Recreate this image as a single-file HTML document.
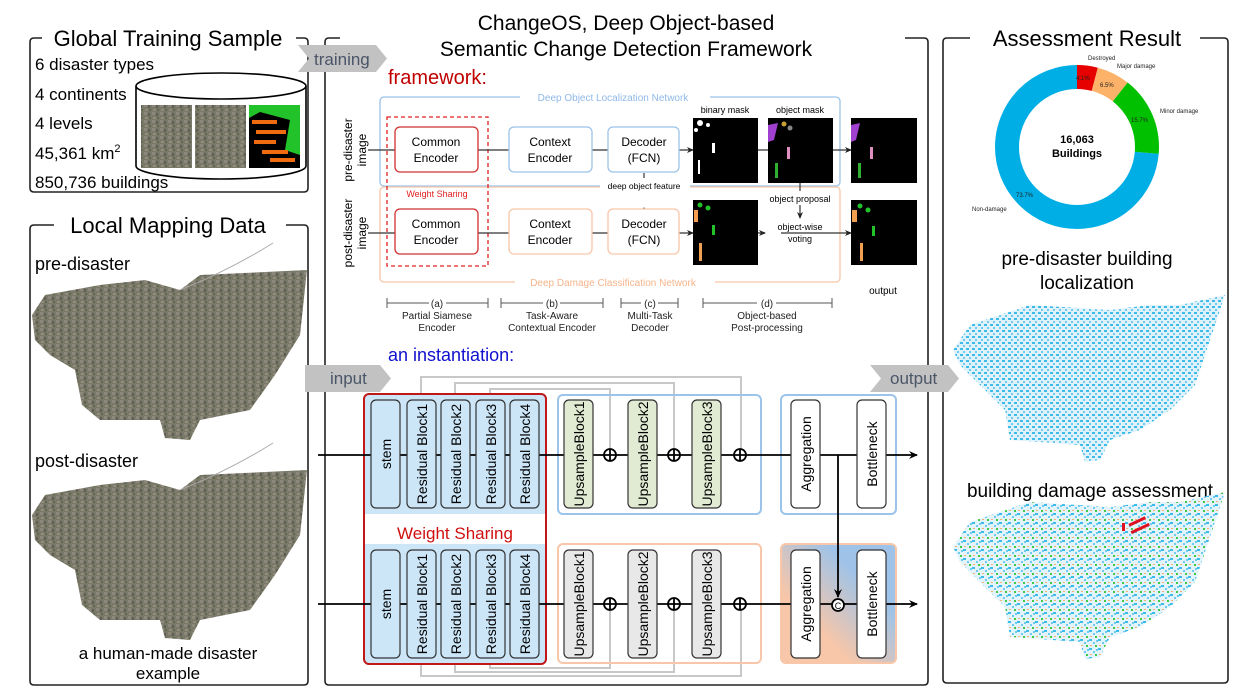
<!DOCTYPE html>
<html><head><meta charset="utf-8"><style>
html,body{margin:0;padding:0;background:#fff}
svg{display:block}
text{font-family:"Liberation Sans",Arial,sans-serif}
</style></head><body>
<svg width="1251" height="692" viewBox="0 0 1251 692" xmlns="http://www.w3.org/2000/svg">
<defs>
<pattern id="sat" width="8" height="8" patternUnits="userSpaceOnUse">
<rect width="8" height="8" fill="#7a7869"/>
<rect x="0" y="0" width="3" height="3" fill="#8c887a"/>
<rect x="4" y="1" width="2" height="3" fill="#5e5d52"/>
<rect x="1" y="5" width="3" height="2" fill="#918b7b"/>
<rect x="5" y="5" width="2" height="2" fill="#5f6a4c"/>
</pattern>
<pattern id="blu" width="6" height="6" patternUnits="userSpaceOnUse">
<rect width="6" height="6" fill="#dff2fb"/>
<rect x="0" y="0" width="3" height="2" fill="#3dbbe8"/>
<rect x="3" y="3" width="2" height="2" fill="#6ccbef"/>
</pattern>
<pattern id="dmg" width="9" height="9" patternUnits="userSpaceOnUse">
<rect width="9" height="9" fill="#e2f3fb"/>
<rect x="0" y="0" width="3" height="2" fill="#3dbbe8"/>
<rect x="4" y="3" width="2" height="2" fill="#6ccbef"/>
<rect x="6" y="6" width="2" height="2" fill="#40c848"/>
<rect x="1" y="6" width="2" height="1" fill="#f6b070"/>
<rect x="7" y="1" width="2" height="2" fill="#6ccbef"/>
</pattern>
<linearGradient id="grd" x1="0" y1="1" x2="1" y2="0">
<stop offset="0.3" stop-color="#f8c6a8"/><stop offset="0.7" stop-color="#9fc3e8"/>
</linearGradient>
<marker id="ah" markerWidth="10" markerHeight="10" refX="8" refY="5" orient="auto" markerUnits="userSpaceOnUse">
<path d="M0,1 L9,5 L0,9 L3,5 z" fill="#000"/></marker>
<marker id="ahs" markerWidth="8" markerHeight="8" refX="6" refY="4" orient="auto" markerUnits="userSpaceOnUse">
<path d="M0,1 L7,4 L0,7 L2,4 z" fill="#222"/></marker>
</defs>

<g fill="none" stroke="#222" stroke-width="1.6">
<path d="M42,38 H34 Q30,38 30,42 V188 Q30,192 34,192 H304 Q308,192 308,188 V42 Q308,38 304,38 H296"/>
<path d="M54,225 H34 Q30,225 30,229 V681 Q30,685 34,685 H304 Q308,685 308,681 V229 Q308,225 304,225 H286"/>
<path d="M340,38 H329 Q325,38 325,42 V681 Q325,685 329,685 H924 Q928,685 928,681 V42 Q928,38 924,38 H905"/>
<path d="M970,38 H947 Q943,38 943,42 V679 Q943,683 947,683 H1224 Q1228,683 1228,679 V42 Q1228,38 1224,38 H1200"/>
</g>
<text x="168" y="46" font-size="22" text-anchor="middle">Global Training Sample</text>
<text x="168" y="233" font-size="22" text-anchor="middle">Local Mapping Data</text>
<text x="1087" y="46" font-size="22" text-anchor="middle">Assessment Result</text>
<text x="626" y="30" font-size="21" text-anchor="middle">ChangeOS, Deep Object-based</text>
<text x="626" y="56" font-size="21" text-anchor="middle">Semantic Change Detection Framework</text>

<g font-size="17">
<text x="35" y="70">6 disaster types</text>
<text x="35" y="100">4 continents</text>
<text x="35" y="129">4 levels</text>
<text x="35" y="159">45,361 km<tspan font-size="11" dy="-7">2</tspan></text>
<text x="35" y="188">850,736 buildings</text>
</g>
<path d="M136,86 V166 A85,13 0 0 0 306,166 V86" fill="#fff" stroke="#000" stroke-width="1.6"/>
<ellipse cx="221" cy="86" rx="85" ry="13" fill="#fff" stroke="#000" stroke-width="1.6"/>
<rect x="141" y="105" width="51" height="63" fill="url(#sat)"/>
<rect x="195" y="105" width="51" height="63" fill="url(#sat)"/>
<rect x="249" y="105" width="51" height="63" fill="#000"/>
<path d="M249,105 H300 V155 L285,150 L290,120 L260,112 L249,118 z" fill="#22c22a"/>
<g fill="#f06a10"><rect x="252" y="120" width="25" height="4"/><rect x="256" y="130" width="30" height="4"/><rect x="254" y="140" width="22" height="4"/><rect x="262" y="150" width="26" height="4"/><rect x="270" y="158" width="25" height="4"/></g>
<path d="M298,45 H376 L387,58.5 L376,72 H298 L309,58.5 z" fill="#c2c2c2"/>
<text x="314" y="65" font-size="17" fill="#4a5568">training</text>

<text x="35" y="270" font-size="18">pre-disaster</text>
<text x="35" y="467" font-size="18">post-disaster</text>
<g fill="url(#sat)">
<path d="M32,315 L45,295 L100,285 L145,280 L180,290 L200,275 L265,272 L307,270 L300,335 L275,375 L250,410 L200,420 L190,440 L165,438 L160,420 L100,420 L82,405 L75,370 L50,355 L35,340 z"/>
<path d="M32,515 L45,495 L100,485 L145,480 L180,490 L200,475 L265,472 L307,470 L300,535 L275,575 L250,610 L200,620 L190,640 L165,638 L160,620 L100,620 L82,605 L75,570 L50,555 L35,540 z"/>
</g>
<path d="M180,290 Q230,270 273,243" fill="none" stroke="#aaa"/>
<path d="M180,490 Q230,470 273,443" fill="none" stroke="#aaa"/>
<text x="168" y="659" font-size="17" text-anchor="middle">a human-made disaster</text>
<text x="168" y="679" font-size="17" text-anchor="middle">example</text>

<text x="388" y="84" font-size="20" fill="#c00000">framework:</text>
<rect x="380" y="97" width="460" height="89" rx="4" fill="none" stroke="#9cc3ea" stroke-width="1.3"/>
<rect x="380" y="187" width="460" height="95" rx="4" fill="none" stroke="#f8c6a8" stroke-width="1.3"/>
<rect x="520" y="91" width="190" height="12" fill="#fff"/>
<text x="613" y="101" font-size="10" fill="#8fb8e8" text-anchor="middle">Deep Object Localization Network</text>
<rect x="515" y="276" width="200" height="12" fill="#fff"/>
<text x="613" y="286" font-size="10" fill="#f6b48a" text-anchor="middle">Deep Damage Classification Network</text>
<rect x="387" y="117" width="101" height="149" fill="none" stroke="#e02020" stroke-width="1.3" stroke-dasharray="4,3"/>
<text x="437" y="197" font-size="9" fill="#e02020" text-anchor="middle">Weight Sharing</text>
<text transform="translate(352,150) rotate(-90)" font-size="12" text-anchor="middle">pre-disaster</text>
<text transform="translate(366,150) rotate(-90)" font-size="12" text-anchor="middle">image</text>
<text transform="translate(352,233) rotate(-90)" font-size="12" text-anchor="middle">post-disaster</text>
<text transform="translate(366,233) rotate(-90)" font-size="12" text-anchor="middle">image</text>
<g stroke="#333" stroke-width="1.2">
<line x1="368" y1="150" x2="693" y2="150" marker-end="url(#ahs)"/>
<line x1="368" y1="233" x2="693" y2="233" marker-end="url(#ahs)"/>
<line x1="758" y1="150" x2="851" y2="150" marker-end="url(#ahs)"/>
<line x1="781" y1="233" x2="851" y2="233" marker-end="url(#ahs)"/>
<line x1="740" y1="233" x2="765" y2="233" marker-end="url(#ahs)"/>
<line x1="644" y1="173" x2="644" y2="178"/>
<line x1="644" y1="212" x2="644" y2="208" marker-end="url(#ahs)"/>
<line x1="800" y1="183" x2="800" y2="191"/>
<line x1="800" y1="205" x2="800" y2="218" marker-end="url(#ahs)"/>
</g>
<g font-size="12" text-anchor="middle">
<rect x="395" y="127" width="83" height="45" rx="5" fill="#fff" stroke="#d03030" stroke-width="1.3"/>
<text x="436" y="146">Common</text><text x="436" y="162">Encoder</text>
<rect x="395" y="209" width="83" height="45" rx="5" fill="#fff" stroke="#d03030" stroke-width="1.3"/>
<text x="436" y="228">Common</text><text x="436" y="244">Encoder</text>
<rect x="509" y="127" width="83" height="45" rx="5" fill="#fff" stroke="#9cc3ea" stroke-width="1.3"/>
<text x="550" y="146">Context</text><text x="550" y="162">Encoder</text>
<rect x="509" y="209" width="83" height="45" rx="5" fill="#fff" stroke="#f8c6a8" stroke-width="1.3"/>
<text x="550" y="228">Context</text><text x="550" y="244">Encoder</text>
<rect x="608" y="127" width="71" height="45" rx="5" fill="#fff" stroke="#9cc3ea" stroke-width="1.3"/>
<text x="644" y="146">Decoder</text><text x="644" y="162">(FCN)</text>
<rect x="608" y="209" width="71" height="45" rx="5" fill="#fff" stroke="#f8c6a8" stroke-width="1.3"/>
<text x="644" y="228">Decoder</text><text x="644" y="244">(FCN)</text>
</g>
<rect x="600" y="180" width="90" height="12" fill="#fff"/>
<text x="644" y="189" font-size="8.5" text-anchor="middle">deep object feature</text>
<g font-size="9" text-anchor="middle">
<text x="725" y="113">binary mask</text><text x="800" y="113">object mask</text>
<text x="800" y="202">object proposal</text>
<text x="800" y="230">object-wise</text><text x="800" y="242">voting</text>
</g>
<text x="883" y="294" font-size="10" text-anchor="middle">output</text>
<rect x="693" y="118" width="65" height="65" fill="#000"/>
<g fill="#fff"><circle cx="700" cy="123" r="3"/><circle cx="708" cy="125" r="2"/><circle cx="696" cy="130" r="2"/><rect x="712" y="143" width="3" height="10"/><rect x="698" y="160" width="2" height="14"/></g>
<rect x="768" y="118" width="65" height="65" fill="#000"/>
<g><path d="M768,125 L778,123 L774,140 L768,142 z" fill="#a040d0"/><circle cx="784" cy="124" r="2.5" fill="#c9a030"/><circle cx="790" cy="128" r="2.5" fill="#888"/><rect x="787" y="147" width="3" height="12" fill="#e090c0"/><rect x="775" y="163" width="3" height="15" fill="#30b030"/></g>
<rect x="851" y="118" width="66" height="65" fill="#000"/>
<path d="M851,125 L860,123 L856,140 L851,142 z" fill="#a040d0"/><rect x="870" y="147" width="3" height="12" fill="#e090c0"/><rect x="858" y="163" width="3" height="15" fill="#30b030"/>
<rect x="693" y="200" width="65" height="65" fill="#000"/>
<g fill="#22c22a"><circle cx="700" cy="205" r="2.5"/><circle cx="708" cy="208" r="2.5"/><rect x="712" y="225" width="3" height="10"/></g><rect x="694" y="210" width="4" height="12" fill="#f0a050"/><rect x="699" y="243" width="3" height="18" fill="#f0a050"/>
<rect x="851" y="200" width="66" height="65" fill="#000"/>
<g fill="#22c22a"><circle cx="860" cy="206" r="2.5"/><circle cx="868" cy="210" r="2.5"/><rect x="872" y="226" width="3" height="10"/></g><rect x="852" y="210" width="5" height="12" fill="#f0a050"/><rect x="860" y="243" width="3" height="18" fill="#f0a050"/>
<g stroke="#555" stroke-width="1" fill="none">
<path d="M387,298 V308 M488,298 V308 M387,303 H429 M446,303 H488"/>
<path d="M501,298 V308 M603,298 V308 M501,303 H543 M560,303 H603"/>
<path d="M621,298 V308 M678,298 V308 M621,303 H641 M658,303 H678"/>
<path d="M703,298 V308 M832,298 V308 M703,303 H757 M776,303 H832"/>
</g>
<g font-size="10" text-anchor="middle" fill="#222">
<text x="437" y="307">(a)</text><text x="437" y="319">Partial Siamese</text><text x="437" y="331">Encoder</text>
<text x="552" y="307">(b)</text><text x="552" y="319">Task-Aware</text><text x="552" y="331">Contextual Encoder</text>
<text x="650" y="307">(c)</text><text x="650" y="319">Multi-Task</text><text x="650" y="331">Decoder</text>
<text x="767" y="307">(d)</text><text x="767" y="319">Object-based</text><text x="767" y="331">Post-processing</text>
</g>

<text x="388" y="361" font-size="18" fill="#1010d0">an instantiation:</text>
<path d="M305,365 H380 L391,378.5 L380,392 H305 z" fill="#c2c2c2"/>
<text x="330" y="384" font-size="17" fill="#4a5568">input</text>
<path d="M870,365 H948 L959,378.5 L948,392 H870 L881,378.5 z" fill="#c2c2c2"/>
<text x="890" y="384" font-size="17" fill="#4a5568">output</text>

<g fill="none" stroke="#c8c8c8" stroke-width="2">
<path d="M421,400 V377 H741 V455"/>
<path d="M455,400 V383 H674 V455"/>
<path d="M490,400 V389 H610 V455"/>
<path d="M421,658 V676 H741 V604"/>
<path d="M455,658 V672 H674 V604"/>
<path d="M490,658 V668 H610 V604"/>
</g>
<rect x="365" y="395" width="180" height="119" fill="#cce6f8"/>
<rect x="365" y="544" width="180" height="119" fill="#cce6f8"/>
<rect x="364" y="394" width="182" height="270" rx="5" fill="none" stroke="#c01818" stroke-width="2"/>
<text x="455" y="539" font-size="17" fill="#d01010" text-anchor="middle">Weight Sharing</text>
<rect x="558" y="395" width="203" height="119" rx="5" fill="none" stroke="#9cc3ea" stroke-width="2"/>
<rect x="558" y="544" width="203" height="119" rx="5" fill="none" stroke="#f8c6a8" stroke-width="2"/>
<rect x="781" y="395" width="115" height="119" rx="5" fill="none" stroke="#9cc3ea" stroke-width="2"/>
<rect x="781" y="544" width="115" height="119" rx="5" fill="url(#grd)" stroke="#f8c6a8" stroke-width="2"/>

<g stroke="#000" stroke-width="1.8">
<line x1="318" y1="455" x2="917" y2="455" marker-end="url(#ah)"/>
<line x1="318" y1="604" x2="917" y2="604" marker-end="url(#ah)"/>
<line x1="838" y1="455" x2="838" y2="597" marker-end="url(#ah)"/>
</g>
<g stroke="#000" stroke-width="1.8" fill="#fff">
<circle cx="610" cy="455" r="6"/><circle cx="674" cy="455" r="6"/><circle cx="740" cy="455" r="6"/>
<circle cx="610" cy="604" r="6"/><circle cx="674" cy="604" r="6"/><circle cx="740" cy="604" r="6"/>
<path d="M604,455 H616 M610,449 V461 M668,455 H680 M674,449 V461 M734,455 H746 M740,449 V461"/>
<path d="M604,604 H616 M610,598 V610 M668,604 H680 M674,598 V610 M734,604 H746 M740,598 V610"/>
<circle cx="838" cy="605" r="6"/>
</g>
<text x="838" y="609" font-size="9" text-anchor="middle">C</text>

<g stroke="#333" stroke-width="1.2">
<rect x="371" y="400" width="29" height="108" rx="5" fill="#cce6f8"/>
<rect x="407" y="400" width="29" height="108" rx="5" fill="#cce6f8"/>
<rect x="441" y="400" width="29" height="108" rx="5" fill="#cce6f8"/>
<rect x="476" y="400" width="29" height="108" rx="5" fill="#cce6f8"/>
<rect x="510" y="400" width="29" height="108" rx="5" fill="#cce6f8"/>
<rect x="371" y="550" width="29" height="108" rx="5" fill="#cce6f8"/>
<rect x="407" y="550" width="29" height="108" rx="5" fill="#cce6f8"/>
<rect x="441" y="550" width="29" height="108" rx="5" fill="#cce6f8"/>
<rect x="476" y="550" width="29" height="108" rx="5" fill="#cce6f8"/>
<rect x="510" y="550" width="29" height="108" rx="5" fill="#cce6f8"/>
<rect x="564" y="400" width="29" height="108" rx="5" fill="#e1ead2"/>
<rect x="628" y="400" width="29" height="108" rx="5" fill="#e1ead2"/>
<rect x="692" y="400" width="29" height="108" rx="5" fill="#e1ead2"/>
<rect x="564" y="550" width="29" height="108" rx="5" fill="#e8e8e8"/>
<rect x="628" y="550" width="29" height="108" rx="5" fill="#e8e8e8"/>
<rect x="692" y="550" width="29" height="108" rx="5" fill="#e8e8e8"/>
<rect x="791" y="400" width="29" height="108" rx="5" fill="#fff"/>
<rect x="857" y="400" width="29" height="108" rx="5" fill="#fff"/>
<rect x="791" y="550" width="29" height="108" rx="5" fill="#fff"/>
<rect x="857" y="550" width="29" height="108" rx="5" fill="#fff"/>
</g>
<g font-size="14" text-anchor="middle">
<text transform="translate(391,454) rotate(-90)">stem</text>
<text transform="translate(427,454) rotate(-90)">Residual Block1</text>
<text transform="translate(461,454) rotate(-90)">Residual Block2</text>
<text transform="translate(496,454) rotate(-90)">Residual Block3</text>
<text transform="translate(530,454) rotate(-90)">Residual Block4</text>
<text transform="translate(391,604) rotate(-90)">stem</text>
<text transform="translate(427,604) rotate(-90)">Residual Block1</text>
<text transform="translate(461,604) rotate(-90)">Residual Block2</text>
<text transform="translate(496,604) rotate(-90)">Residual Block3</text>
<text transform="translate(530,604) rotate(-90)">Residual Block4</text>
<text transform="translate(584,454) rotate(-90)">UpsampleBlock1</text>
<text transform="translate(648,454) rotate(-90)">UpsampleBlock2</text>
<text transform="translate(712,454) rotate(-90)">UpsampleBlock3</text>
<text transform="translate(584,604) rotate(-90)">UpsampleBlock1</text>
<text transform="translate(648,604) rotate(-90)">UpsampleBlock2</text>
<text transform="translate(712,604) rotate(-90)">UpsampleBlock3</text>
<text transform="translate(811,454) rotate(-90)">Aggregation</text>
<text transform="translate(877,454) rotate(-90)">Bottleneck</text>
<text transform="translate(811,604) rotate(-90)">Aggregation</text>
<text transform="translate(877,604) rotate(-90)">Bottleneck</text>
</g>

<g transform="rotate(-90 1077 147)" fill="none" stroke-width="24">
<circle cx="1077" cy="147" r="70" stroke="#00aee6" stroke-dasharray="0 115.7 324.1 0"/>
<circle cx="1077" cy="147" r="70" stroke="#e60000" stroke-dasharray="18 421.8"/>
<circle cx="1077" cy="147" r="70" stroke="#fdb26a" stroke-dasharray="0 18 28.6 393.2"/>
<circle cx="1077" cy="147" r="70" stroke="#00c000" stroke-dasharray="0 46.6 69.1 324.1"/>
</g>
<text x="1077" y="143" font-size="11" font-weight="bold" text-anchor="middle">16,063</text>
<text x="1077" y="157" font-size="11" font-weight="bold" text-anchor="middle">Buildings</text>
<g font-size="6" fill="#222">
<text x="1088" y="60">Destroyed</text><text x="1117" y="68">Major damage</text>
<text x="1160" y="113">Minor damage</text><text x="972" y="211">Non-damage</text>
<text x="1076" y="80">4.1%</text><text x="1100" y="87">6.5%</text>
<text x="1131" y="122">15.7%</text><text x="1016" y="197">73.7%</text>
</g>

<text x="1087" y="265" font-size="19" text-anchor="middle">pre-disaster building</text>
<text x="1087" y="289" font-size="19" text-anchor="middle">localization</text>
<text x="1090" y="497" font-size="19" text-anchor="middle">building damage assessment</text>
<path d="M953,350 L970,325 L1030,305 L1110,310 L1150,305 L1180,305 L1225,295 L1210,340 L1195,385 L1170,410 L1140,430 L1110,440 L1100,460 L1085,462 L1080,445 L1010,440 L1005,410 L980,385 L960,365 z" fill="url(#blu)"/>
<path d="M953,547 L970,522 L1030,502 L1110,507 L1150,502 L1180,502 L1225,492 L1210,537 L1195,582 L1170,607 L1140,627 L1110,637 L1100,657 L1085,659 L1080,642 L1010,637 L1005,607 L980,582 L960,562 z" fill="url(#dmg)"/>
<g fill="#e01020"><rect x="1128" y="520" width="18" height="3" transform="rotate(-25 1137 521)"/><rect x="1130" y="527" width="20" height="3" transform="rotate(-25 1140 528)"/><rect x="1122" y="523" width="3" height="8"/></g>
</svg>
</body></html>
